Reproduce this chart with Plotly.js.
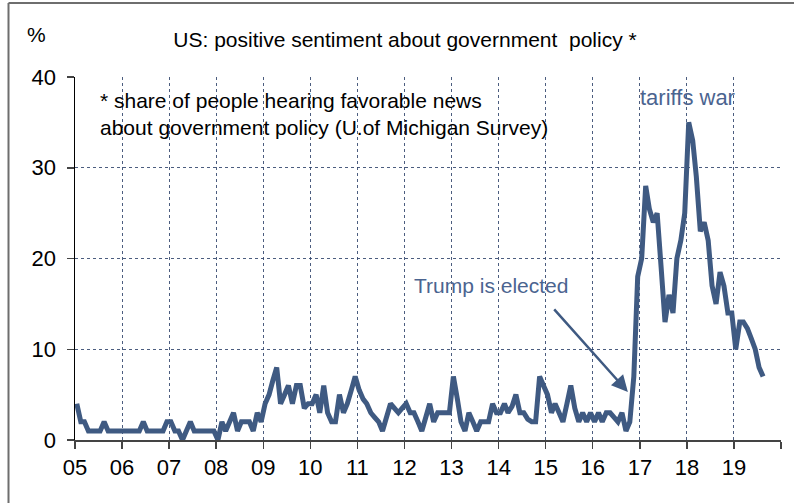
<!DOCTYPE html>
<html>
<head>
<meta charset="utf-8">
<script src="https://cdn.plot.ly/plotly-3.0.1.min.js"></script>
<style>
  html, body { margin: 0; padding: 0; background: #fff; }
  #chart { width: 794px; height: 503px; }
</style>
</head>
<body>
<div id="chart"></div>
<script>
// Monthly share (%) of people hearing favorable news about government policy
const startYear = 2005;
const s2005 = [4, 2, 2, 1, 1, 1, 1, 2, 1, 1, 1, 1];
const s2006 = [1, 1, 1, 1, 1, 2, 1, 1, 1, 1, 1, 2];
const s2007 = [2, 1, 1, 0, 1, 2, 1, 1, 1, 1, 1, 1];
const s2008 = [0, 2, 1, 2, 3, 1, 2, 2, 2, 1, 3, 2];
const s2009 = [4, 5, 6.5, 8, 4, 5, 6, 4, 6, 6, 3.5, 4];
const s2010 = [4, 5, 3, 6, 3, 2, 2, 5, 3, 4, 5.5, 7];
const s2011 = [5.5, 4.5, 4, 3, 2.5, 2, 1, 2.5, 4, 3.5, 3, 3.5];
const s2012 = [4, 3, 3, 2, 1, 2.5, 4, 2, 3, 3, 3, 3];
const s2013 = [7, 4.5, 2, 1, 3, 2, 1, 2, 2, 2, 4, 3];
const s2014 = [3, 4, 3, 3.7, 5, 3, 3, 2.3, 2, 2, 7, 6];
const s2015 = [5, 3, 4, 3, 2, 4, 6, 3.5, 2, 3, 2, 3];
const s2016 = [2, 3, 2, 3, 3, 2.5, 2, 3, 1, 2, 7, 18];
const s2017 = [20, 28, 25.5, 24, 25, 19, 13, 16, 14, 20, 22, 25];
const s2018 = [35, 33, 29, 23, 24, 22, 17, 15, 18.5, 17, 14, 14];
const s2019 = [10, 13, 13, 12.3, 11.2, 10, 8, 7];

const seriesByYear = [s2005, s2006, s2007, s2008, s2009, s2010, s2011, s2012,
                      s2013, s2014, s2015, s2016, s2017, s2018, s2019];

// Axis ticks: one per year, the final (2020) tick is unlabeled
const tickYears = [2005, 2006, 2007, 2008, 2009, 2010, 2011, 2012, 2013, 2014,
                   2015, 2016, 2017, 2018, 2019, 2020];
const tickLabels = ['05', '06', '07', '08', '09', '10', '11', '12', '13', '14',
                    '15', '16', '17', '18', '19', ''];
const yTicks = [0, 10, 20, 30, 40];

// Build mid-month dates for each observation
const xDates = [];
const yVals = [];
seriesByYear.forEach((vals, k) => {
  const yr = startYear + k;
  vals.forEach((v, m) => {
    xDates.push(yr + '-' + String(m + 1).padStart(2, '0') + '-15');
    yVals.push(v);
  });
});

const lineColor = '#3f5a82';
const noteColor = '#4b6490';
const gridColor = 'rgba(45,65,105,0.85)';

// plot-area geometry in pixels, used to place frame and notes
const W = 794, H = 503;
const L = 75, R = 13, T = 77, B = 63;
const pw = W - L - R, ph = H - T - B;
const px = v => (v - L) / pw;
const py = v => (H - B - v) / ph;

const trace = {
  type: 'scatter',
  mode: 'lines',
  x: xDates,
  y: yVals,
  line: { color: lineColor, width: 5, simplify: false },
  hoverinfo: 'skip'
};

const layout = {
  width: W, height: H,
  margin: { l: L, r: R, t: T, b: B },
  paper_bgcolor: '#fff',
  plot_bgcolor: '#fff',
  showlegend: false,
  font: { family: '"Liberation Sans", Arial, sans-serif', size: 21, color: '#000' },
  title: {
    text: 'US: positive sentiment about government\u00a0 policy *',
    x: 405 / W, xanchor: 'center',
    y: 1 - 40 / H, yanchor: 'middle',
    font: { size: 21, color: '#000' }
  },
  xaxis: {
    type: 'date',
    range: ['2005-01-01', '2020-01-01'],
    tickmode: 'array',
    tickvals: tickYears.map(y => y + '-01-01'),
    ticktext: tickLabels,
    ticks: 'outside', ticklen: 7, tickwidth: 1.5, tickcolor: '#444',
    showline: true, linecolor: '#444', linewidth: 2,
    showgrid: true, gridcolor: gridColor, griddash: 'dot', gridwidth: 1,
    zeroline: false,
    tickfont: { size: 22, color: '#000' },
    fixedrange: true
  },
  yaxis: {
    range: [0, 40],
    tickmode: 'array',
    tickvals: yTicks,
    ticks: 'outside', ticklen: 7, tickwidth: 1.5, tickcolor: '#444',
    showline: true, linecolor: '#000', linewidth: 1.5,
    showgrid: true, gridcolor: gridColor, griddash: 'dot', gridwidth: 1,
    zeroline: false,
    ticklabelstandoff: 6,
    tickfont: { size: 22, color: '#000' },
    fixedrange: true
  },
  shapes: [
    { type: 'line', xref: 'paper', yref: 'paper',
      x0: px(8.5), x1: px(8.5), y0: py(3), y1: py(H + 2),
      line: { color: '#6e6e6e', width: 2 } },
    { type: 'line', xref: 'paper', yref: 'paper',
      x0: px(8.5), x1: px(W + 2), y0: py(3), y1: py(3),
      line: { color: '#6e6e6e', width: 2 } }
  ],
  annotations: [
    { xref: 'paper', yref: 'paper', x: px(36), y: py(35),
      xanchor: 'center', yanchor: 'middle', showarrow: false,
      text: '%', font: { size: 21, color: '#000' } },
    { xref: 'paper', yref: 'paper', x: px(98), y: py(114),
      xanchor: 'left', yanchor: 'middle', align: 'left', showarrow: false,
      text: '* share of people hearing favorable news<br>about government policy (U.of Michigan Survey)',
      font: { size: 21, color: '#000' } },
    { xref: 'paper', yref: 'paper', x: px(638), y: py(97),
      xanchor: 'left', yanchor: 'middle', showarrow: false,
      text: 'tariffs war', font: { size: 22, color: noteColor } },
    { xref: 'paper', yref: 'paper', x: px(412), y: py(285),
      xanchor: 'left', yanchor: 'middle', showarrow: false,
      text: 'Trump is elected', font: { size: 21, color: noteColor } },
    { xref: 'x', yref: 'y', x: '2016-09-30', y: 5.3,
      text: '', showarrow: true,
      ax: -75, ay: -84,
      arrowhead: 2, arrowsize: 1.3, arrowwidth: 2.5, arrowcolor: lineColor,
      standoff: 0, startstandoff: 0 }
  ]
};

Plotly.newPlot('chart', [trace], layout, { displayModeBar: false, staticPlot: true });
</script>
</body>
</html>
